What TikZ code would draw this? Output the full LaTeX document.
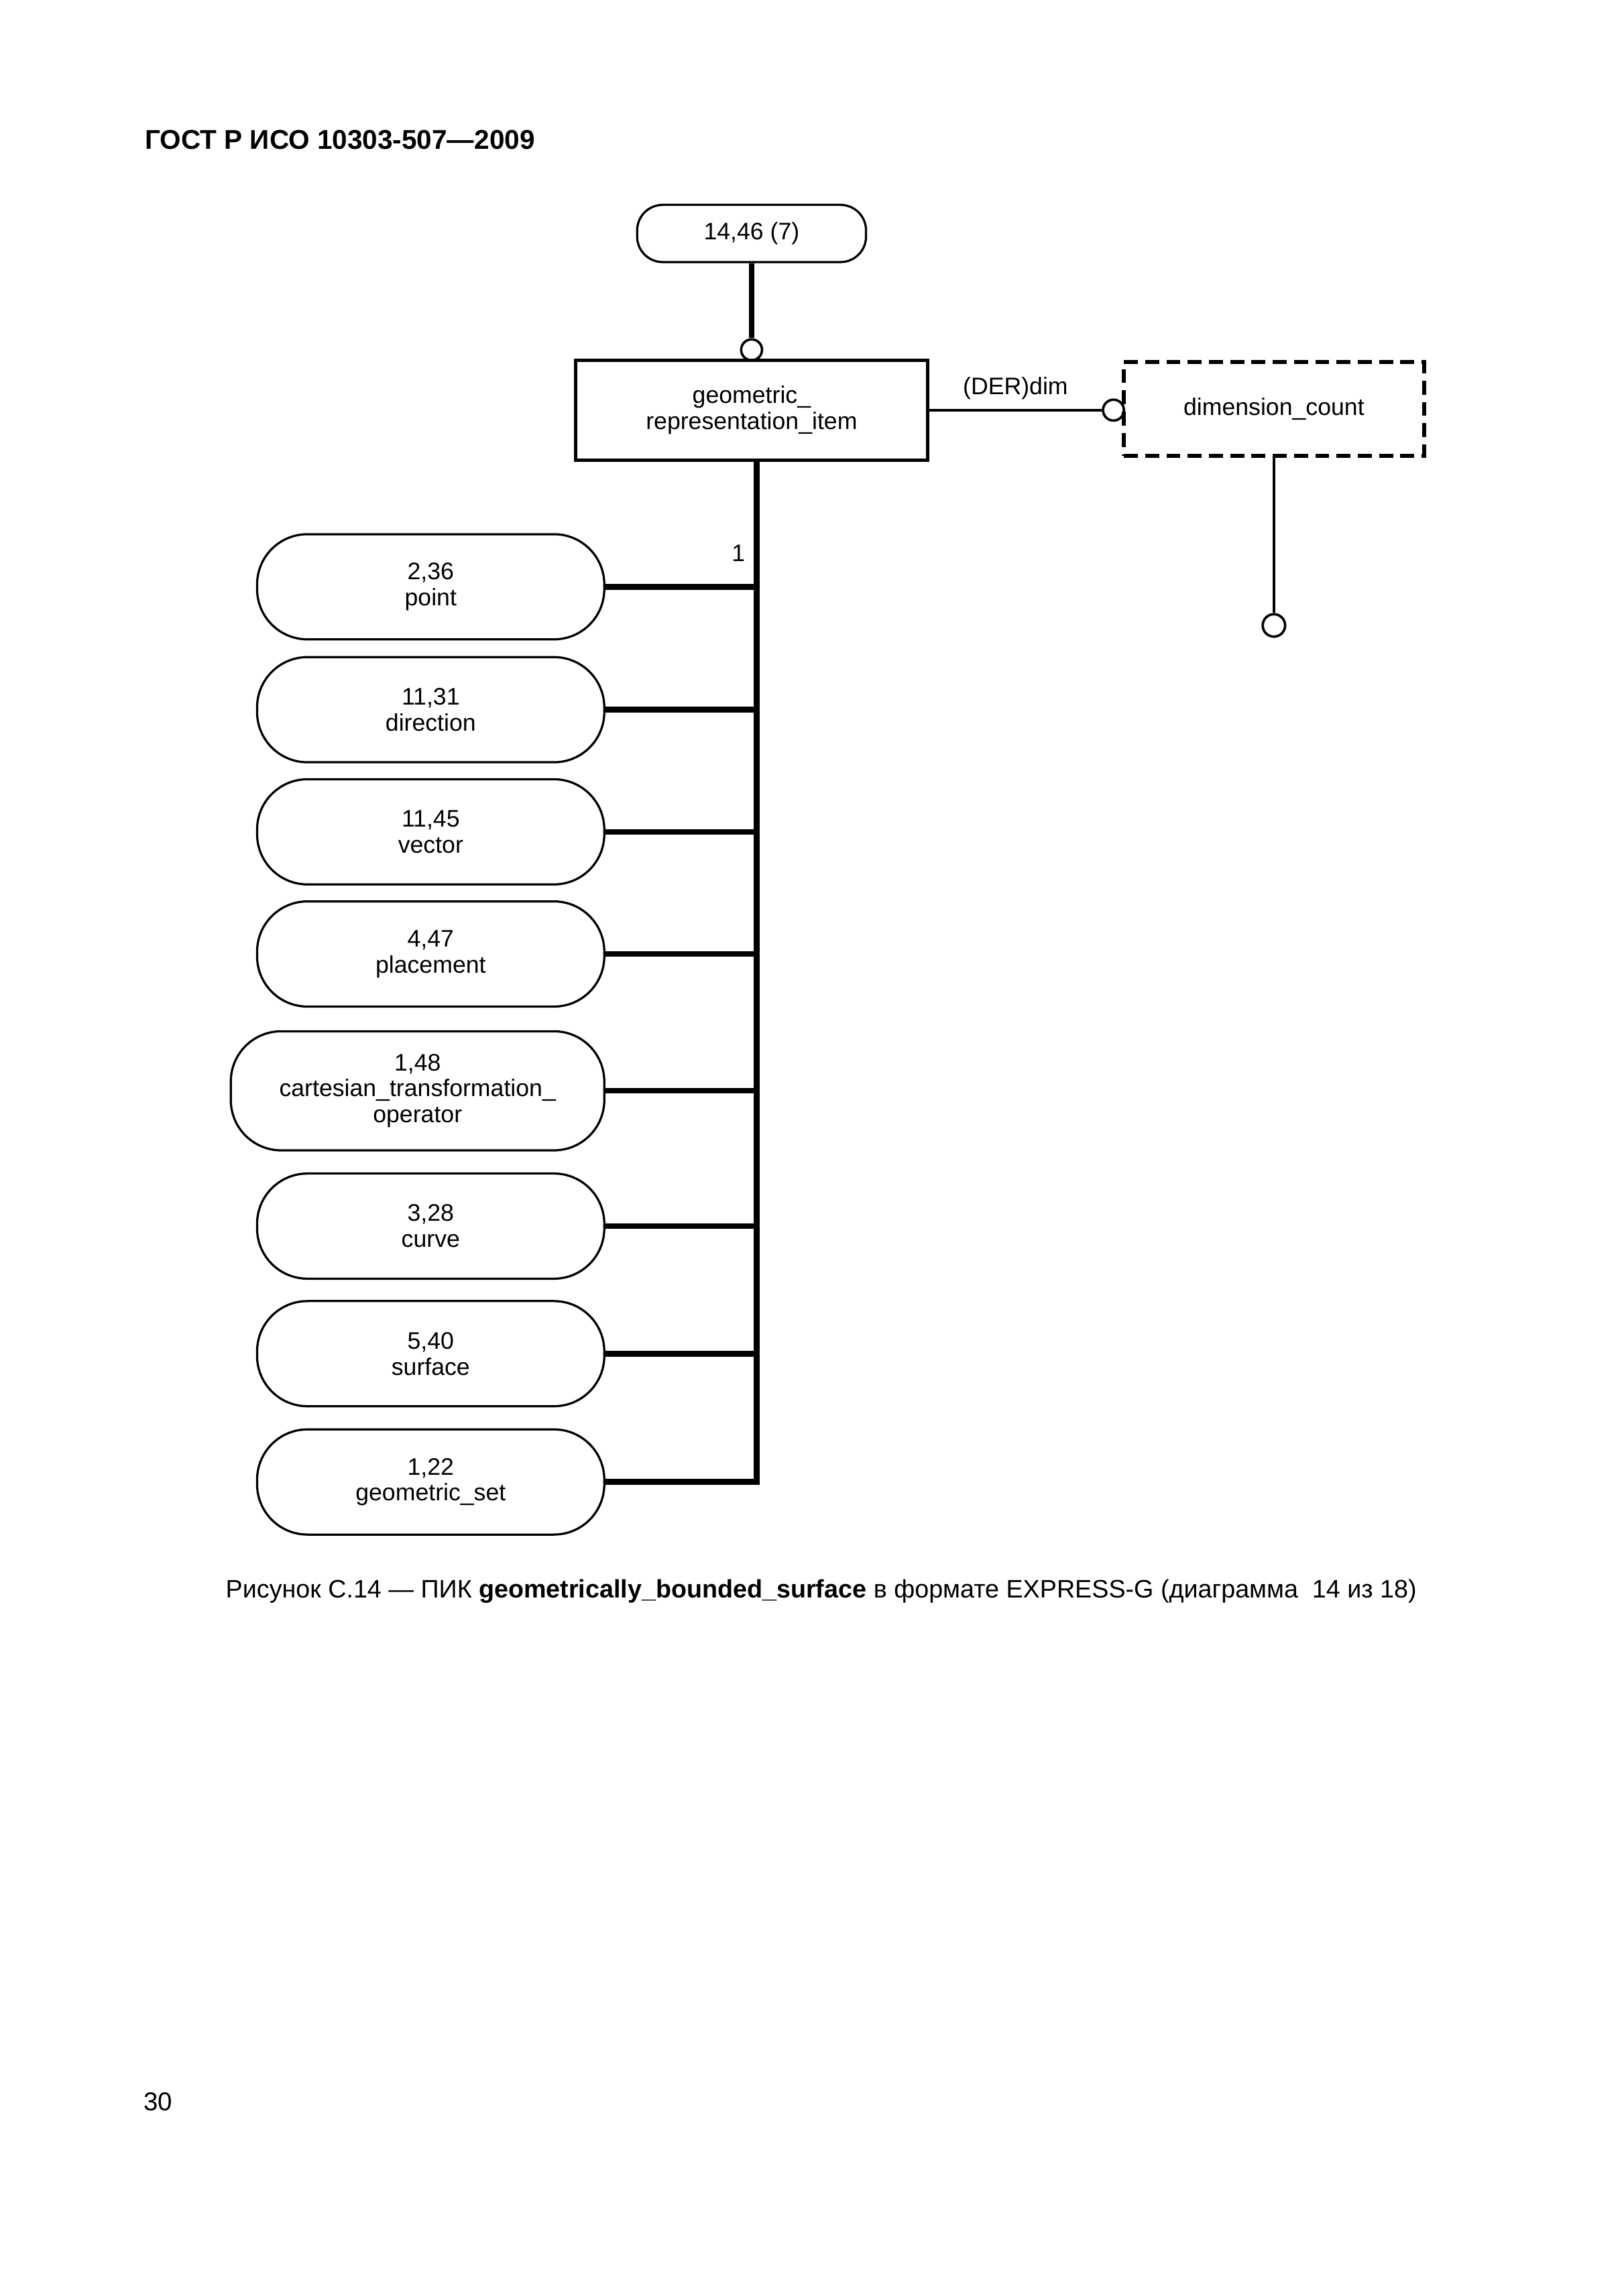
\documentclass[tikz,border=0pt]{standalone}
\usepackage{fontspec}
\setmainfont{Liberation Sans}
\usetikzlibrary{positioning}

\begin{document}
\begin{tikzpicture}[x=1mm, y=-1mm,
        every node/.style={font=\fontsize{8.8}{9.6}\selectfont, align=center},
        entity/.style={draw, line width=0.8pt, rounded corners=6.5mm, minimum width=44.9mm, minimum height=13.6mm, inner sep=0pt},
        ebox/.style={draw, line width=1.2pt, minimum width=45.5mm, minimum height=12.9mm},
        dbox/.style={draw, line width=1.5pt, dash pattern=on 1.8mm off 0.95mm, minimum width=38.8mm, minimum height=12.2mm},
        ring/.style={draw, circle, fill=white, line width=0.9pt, inner sep=0pt},
        thickln/.style={line width=2.1pt},
        thinln/.style={line width=1pt}]
        \fill[white] (0,0) rectangle (210,297);
        \useasboundingbox (0,0) rectangle (210,297);

        \node[anchor=base west, inner sep=0pt, font=\fontsize{10}{12}\selectfont\bfseries] (hdr) at (18.7,19.25) {ГОСТ Р ИСО 10303-507—2009};

        \node[entity, minimum width=29.6mm, minimum height=7.4mm, rounded corners=3.3mm] (top) at (97.2,30.2) {14,46 (7)};
        \node[ring, minimum size=2.7mm] (r1) at (97.2,45.25) {};
        \node[ebox] (gri) at (97.2,53.05) {geometric\_\\representation\_item};
        \node[ring, minimum size=2.7mm] (r2) at (144.0,53.05) {};
        \node[dbox] (dim) at (164.75,52.9) {dimension\_count};
        \node[ring, minimum size=2.9mm] (r3) at (164.75,80.9) {};
        \coordinate (trk) at (97.85,59.5);

        \node[entity] (pt)  at (55.7,75.9)  {2,36\\point};
        \node[entity] (dir) at (55.7,91.8)  {11,31\\direction};
        \node[entity] (vec) at (55.7,107.6) {11,45\\vector};
        \node[entity] (plc) at (55.7,123.4) {4,47\\placement};
        \node[entity, minimum width=48.3mm, minimum height=15.4mm] (cto) at (54.0,141.1) {1,48\\cartesian\_transformation\_\\operator};
        \node[entity] (crv) at (55.7,158.6) {3,28\\curve};
        \node[entity] (srf) at (55.7,175.1) {5,40\\surface};
        \node[entity] (gs)  at (55.7,191.7) {1,22\\geometric\_set};
        \node (one) at (95.5,71.6) {1};

        \draw[thickln] (top) -- (r1);
        \draw[thinln] (gri) -- node[above] {(DER)dim} (r2);
        \draw[thinln] (dim) -- (r3);

        % supertype trunk
        \draw[thickln] (trk) |- (gs.east);
        \foreach \n in {pt,dir,vec,plc,cto,crv,srf}
            \draw[thickln] (\n.east) -- (\n.east -| trk);

        \node[anchor=base, font=\fontsize{9.3}{12}\selectfont] (cap) at (106.2,206.7) {Рисунок С.14 — ПИК \textbf{geometrically\_bounded\_surface} в формате EXPRESS-G (диаграмма~~14 из 18)};
        \node[anchor=base west, inner sep=0pt, font=\fontsize{9.5}{12}\selectfont] (pg) at (18.5,273.0) {30};
\end{tikzpicture}
\end{document}
